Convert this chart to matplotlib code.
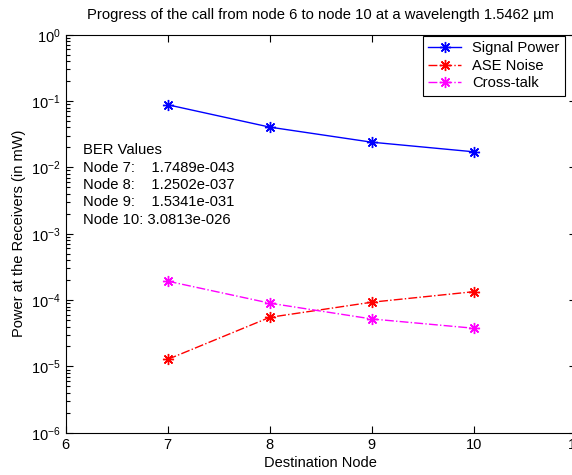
import numpy as np
import matplotlib
matplotlib.use('Agg')
import matplotlib.pyplot as plt
from matplotlib.ticker import LogLocator, NullFormatter

# values
nodes = [7, 8, 9, 10]
signal_power = [0.088, 0.0405, 0.024, 0.0172]
ase_noise = [1.28e-5, 5.5e-5, 9.3e-5, 1.34e-4]
cross_talk = [1.93e-4, 9.0e-5, 5.2e-5, 3.77e-5]
ber_lines = ["BER Values",
             "Node 7:    1.7489e-043",
             "Node 8:    1.2502e-037",
             "Node 9:    1.5341e-031",
             "Node 10: 3.0813e-026"]
xticks = [6, 7, 8, 9, 10, 11]

plt.rcParams['font.family'] = ['Liberation Sans', 'DejaVu Sans']
plt.rcParams['mathtext.fontset'] = 'custom'
plt.rcParams['mathtext.rm'] = 'Liberation Sans'
plt.rcParams['mathtext.it'] = 'Liberation Sans'
plt.rcParams['mathtext.default'] = 'regular'

fig = plt.figure(figsize=(5.72, 4.75), dpi=100)
ax = fig.add_axes([0.1149, 0.0888, 0.8916, 0.8381])

# MATLAB style '*' marker: 8-point asterisk
star = (8, 2, 0)
ax.semilogy(nodes, signal_power, '-', marker=star, color='blue', lw=1, ms=8, mew=1, label='Signal Power')
ax.semilogy(nodes, ase_noise, '-.', marker=star, color='red', lw=1, ms=8, mew=1, label='ASE Noise')
ax.semilogy(nodes, cross_talk, '-.', marker=star, color='magenta', lw=1, ms=8, mew=1, label='Cross-talk')

ax.set_xlim(6, 11)
ax.set_ylim(1e-6, 1)
ax.set_xticks(xticks)
ax.yaxis.set_major_locator(LogLocator(base=10, numticks=10))
ax.yaxis.set_minor_locator(LogLocator(base=10, subs=np.arange(2, 10), numticks=10))
ax.yaxis.set_minor_formatter(NullFormatter())
ax.tick_params(which='both', direction='in', top=True, right=True, labelsize=10.5, width=0.8)
ax.tick_params(which='major', length=5)
ax.tick_params(which='minor', length=3)
for s in ax.spines.values():
    s.set_linewidth(0.8)

ax.set_title('Progress of the call from node 6 to node 10 at a wavelength 1.5462 \u00b5m',
             fontsize=10.6, pad=11)
ax.set_xlabel('Destination Node', fontsize=10.5, labelpad=3)
ax.set_ylabel('Power at the Receivers (in mW)', fontsize=10.5, labelpad=4)

ax.text(0.034, 0.727, "\n".join(ber_lines), transform=ax.transAxes,
        fontsize=10.6, va='top', ha='left', linespacing=1.3)

leg = ax.legend(loc='upper right', bbox_to_anchor=(0.979, 0.997), borderaxespad=0,
                fancybox=False, edgecolor='black', framealpha=1, fontsize=10.6,
                handlelength=2.2, labelspacing=0.25, borderpad=0.35)
leg.get_frame().set_linewidth(0.8)

fig.savefig('out.png', dpi=100)
